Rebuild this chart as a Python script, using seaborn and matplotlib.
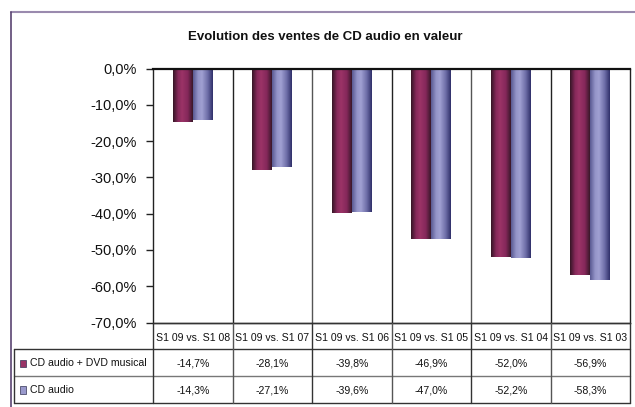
import pandas as pd
import seaborn as sns
import numpy as np
import matplotlib.pyplot as plt
from matplotlib.colors import LinearSegmentedColormap
from matplotlib.patches import Rectangle
from matplotlib.lines import Line2D

# donnees
periodes = ["S1 09 vs. S1 08", "S1 09 vs. S1 07", "S1 09 vs. S1 06",
            "S1 09 vs. S1 05", "S1 09 vs. S1 04", "S1 09 vs. S1 03"]
series = ["CD audio + DVD musical", "CD audio"]
cd_dvd = [-14.7, -28.1, -39.8, -46.9, -52.0, -56.9]
cd_audio = [-14.3, -27.1, -39.6, -47.0, -52.2, -58.3]
yticks = [0, -10, -20, -30, -40, -50, -60, -70]

df = pd.DataFrame({
    "periode": periodes * 2,
    "serie": [series[0]] * 6 + [series[1]] * 6,
    "valeur": cd_dvd + cd_audio,
})

sns.set_style("white")
plt.rcParams["font.family"] = ["Liberation Sans", "DejaVu Sans"]

W, H = 635, 407
fig = plt.figure(figsize=(W / 100, H / 100), dpi=100)

# geometry in pixels
x0, x1 = 153, 630
y_top, y_bot = 68.5, 322.5
tab_left, tab_bot = 14, 403

ax = fig.add_axes([x0 / W, 1 - y_bot / H, (x1 - x0) / W, (y_bot - y_top) / H])

maroon = "#993366"
lav = "#9999cc"
sns.barplot(data=df, x="periode", y="valeur", hue="serie", palette=[maroon, lav],
            width=0.5, ax=ax, legend=False, saturation=1)

# cylinder shading
cm_m = LinearSegmentedColormap.from_list("m", [(0, "#361626"), (0.25, "#86295a"), (0.45, "#9b3367"),
                                              (0.75, "#84285a"), (1, "#3a1829")])
cm_b = LinearSegmentedColormap.from_list("b", [(0, "#5a5a92"), (0.25, "#9494c8"), (0.45, "#a0a0d2"),
                                              (0.75, "#6c6ca6"), (1, "#30306a")])
grad = np.linspace(0, 1, 64).reshape(1, -1)
for i, p in enumerate(ax.patches):
    cmap = cm_m if i < len(periodes) else cm_b
    bx, by, bw, bh = p.get_x(), p.get_y(), p.get_width(), p.get_height()
    im = ax.imshow(grad, extent=[bx, bx + bw, by + bh, by], aspect="auto", cmap=cmap, zorder=2)
    im.set_clip_path(p)
    p.set_facecolor("none")
    p.set_edgecolor("none")

n = len(periodes)
ax.set_xlim(-0.5, n - 0.5)
ax.set_ylim(-70, 0)
ax.set_yticks(yticks)
ax.set_yticklabels([f"{v:.1f}%".replace(".", ",") for v in yticks], fontsize=10.5, color="#111111")
ax.set_xticks([])
ax.set_xlabel("")
ax.set_ylabel("")
ax.tick_params(axis="y", direction="out", length=5, width=1, color="#222222", left=True, pad=7)
for s in ["left", "right", "bottom"]:
    ax.spines[s].set_color("#222222")
    ax.spines[s].set_linewidth(1)
ax.spines["top"].set_color("#111111")
ax.spines["top"].set_linewidth(1.6)
for k in range(1, n):
    ax.axvline(k - 0.5, color="#555555" if k % 2 == 0 else "#222222", lw=1, zorder=1)

# data table under the chart
cat_w = (x1 - x0) / n
left_u = -0.5 - (x0 - tab_left) / cat_w
tab = fig.add_axes([x0 / W, 1 - tab_bot / H, (x1 - x0) / W, (tab_bot - y_bot) / H])
tab.set_xlim(-0.5, n - 0.5)
tab.set_ylim(3, 0)
tab.axis("off")

lc = "#333333"
tab.add_line(Line2D([-0.5, n - 0.5], [0, 0], color=lc, lw=1, clip_on=False))
for r in [1, 3]:
    tab.add_line(Line2D([left_u, n - 0.5], [r, r], color=lc, lw=1, clip_on=False))
tab.add_line(Line2D([left_u, n - 0.5], [2, 2], color="#777777", lw=1, clip_on=False))
for k in range(n + 1):
    tab.add_line(Line2D([k - 0.5, k - 0.5], [0, 3], color=lc if k % 2 == 0 else "#555555",
                        lw=1, clip_on=False))
tab.add_line(Line2D([left_u, left_u], [1, 3], color=lc, lw=1, clip_on=False))

fs = 7.6
for i, lab in enumerate(periodes):
    tab.text(i, 0.58, lab, ha="center", va="center", fontsize=fs, color="#111111")
for r, (vals, name, col) in enumerate([(cd_dvd, series[0], maroon), (cd_audio, series[1], lav)]):
    yy = 1.52 + r
    for i, v in enumerate(vals):
        tab.text(i, yy, f"{v:.1f}%".replace(".", ","), ha="center", va="center",
                 fontsize=fs, color="#111111")
    tab.add_patch(Rectangle((left_u + 0.07, yy - 0.14), 0.085, 0.28, facecolor=col,
                            edgecolor="#333355", lw=0.5, clip_on=False))
    tab.text(left_u + 0.2, yy, name, ha="left", va="center", fontsize=fs, color="#111111")

# title
fig.text(325 / W, 1 - 37 / H, "Evolution des ventes de CD audio en valeur",
         ha="center", va="center", fontsize=9.5, fontweight="bold", color="#111111")

# chart frame
fig.add_artist(Line2D([10.7 / W, 1.0], [1 - 12 / H, 1 - 12 / H], transform=fig.transFigure,
                      color="#9a8aae", lw=1.5))
fig.add_artist(Line2D([10.7 / W, 10.7 / W], [1 - 12 / H, 0], transform=fig.transFigure,
                      color="#5a4472", lw=1.2))

fig.savefig("out.png", dpi=100)
